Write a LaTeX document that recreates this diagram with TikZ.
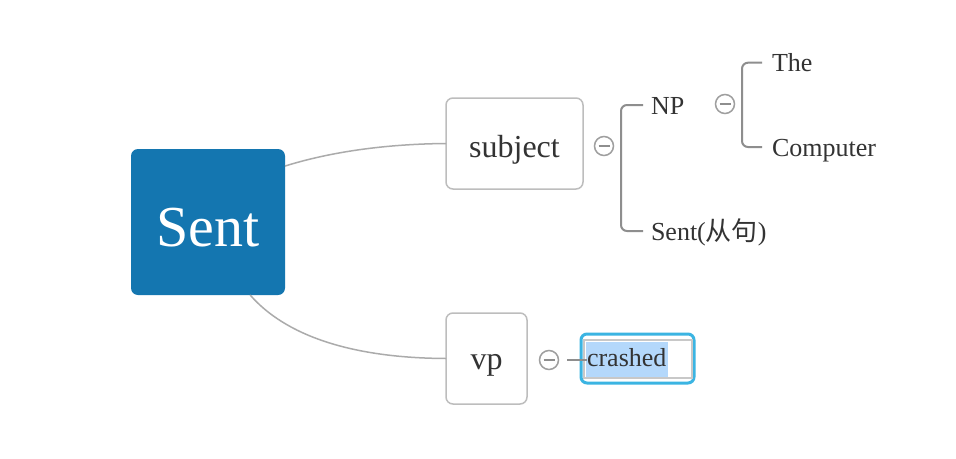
\documentclass[tikz,border=0pt]{standalone}
\usepackage{fontspec}
\setmainfont{Liberation Serif}
\newfontfamily\cjk{Noto Sans CJK SC}
\usetikzlibrary{calc}
\definecolor{sentblue}{HTML}{1476B0}
\definecolor{boxgray}{HTML}{BDBDBD}
\definecolor{linegray}{HTML}{ABABAB}
\definecolor{brgray}{HTML}{8E8E8E}
\definecolor{txt}{HTML}{333333}
\definecolor{selblue}{HTML}{3BB4E2}
\definecolor{hilite}{HTML}{B4D8FB}
\definecolor{innergray}{HTML}{C8C8C8}
\tikzset{
  rootbox/.style={fill=sentblue, rounded corners=7pt, inner sep=0pt, outer sep=0pt, text=white,
    font=\fontsize{58}{60}\selectfont, text height=48pt, text depth=0pt},
  topicbox/.style={draw=boxgray, line width=1.5pt, fill=white, rounded corners=7pt, inner sep=0pt,
    outer sep=0pt, text=txt, font=\fontsize{32}{34}\selectfont},
  leaf/.style={anchor=west, inner sep=0pt, outer sep=0pt, text=txt, text height=18pt, text depth=0pt,
    font=\fontsize{26}{28}\selectfont},
  conn/.style={draw=linegray, line width=1.5pt},
  bracket/.style={draw=brgray, line width=2pt, rounded corners=6pt},
  minus/.style={circle, draw=brgray!85, line width=1.5pt, minimum size=19pt, inner sep=0pt, fill=white,
    path picture={\draw[brgray, line width=1.5pt] ($(path picture bounding box.center)+(-5.5,0)$) -- ++(11,0);}}
}
\begin{document}
\begin{tikzpicture}[x=1pt,y=-1pt]
\useasboundingbox[fill=white] (0,0) rectangle (956,458);

% main nodes
\node[rootbox, minimum width=154pt, minimum height=146pt] (sent) at (208,222) {Sent};
\node[topicbox, minimum width=137pt, minimum height=91pt, text height=28.4pt, text depth=0pt] (subject) at (514.5,143.5) {subject};
\node[topicbox, minimum width=81pt, minimum height=91pt, text height=21pt, text depth=0pt] (vp) at (486.5,358.5) {vp};

% connectors from root
\draw[conn] (sent.36) .. controls (330,152) and (385,144) .. (subject.west);
\draw[conn] (sent.-60.7) .. controls (285,335) and (350,358) .. (vp.west);

% collapse icons
\node[minus] (m1) at (604,146) {};
\node[minus] (m2) at (549,360) {};
\node[minus] (m3) at (725,104) {};

% subject children
\node[leaf] (np) at (651,105) {NP};
\node[leaf] (sub2) at (651,231) {Sent({\cjk 从句})};
\draw[bracket] ([xshift=-8pt]np.west) -| ([xshift=-30pt]sub2.west) -- ([xshift=-8pt]sub2.west);

% NP children
\node[leaf] (the) at (772,62.7) {The};
\node[leaf] (comp) at (772,147) {Computer};
\draw[bracket] ([xshift=-10pt]the.west) -| ([xshift=-30pt]comp.west) -- ([xshift=-10pt]comp.west);

% crashed (selected, editing)
\node[draw=selblue, line width=3pt, rounded corners=6pt, minimum width=113pt, minimum height=49pt,
  inner sep=0pt, fill=white] (crashed) at (637.5,358.5) {};
\node[draw=innergray, line width=1.5pt, fill=white, minimum width=108pt, minimum height=38pt,
  inner sep=0pt] (edit) at (638,359) {};
\node[fill=hilite, minimum width=82pt, minimum height=35pt, inner sep=0pt, anchor=west] (hl) at (586,359) {};
\node[leaf] (crtext) at (587,357.7) {crashed};
\draw[draw=brgray, line width=2pt] ([xshift=8pt]m2.east) -- ([xshift=7pt]crashed.west |- m2.east);
\end{tikzpicture}
\end{document}
